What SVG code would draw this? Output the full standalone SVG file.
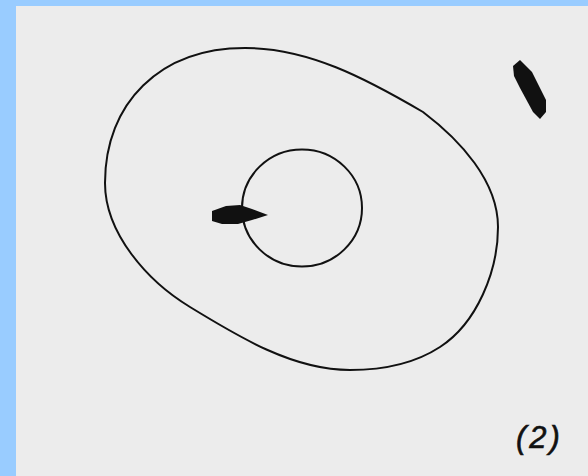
<svg xmlns="http://www.w3.org/2000/svg" width="588" height="476" viewBox="0 0 588 476">
<style>
.line{fill:none;stroke:#111;stroke-width:2}
.blob{fill:#111}
.lbl{font-family:"Liberation Sans",Arial,sans-serif;font-style:italic;font-size:31px;fill:#111;stroke:#111;stroke-width:0.6;letter-spacing:3px}
</style>
<rect x="0" y="0" width="588" height="476" fill="#99ccff"/>
<rect x="16" y="6" width="572" height="470" fill="#ececec"/>
<g id="outer-orbit">
<path class="line" d="M245,48 C308,48 365,78 423,112 C460,140 498,181 498,227 C498,271 477,323 440,347 C414,364 381,370 350,370 C293,370 239,337 190,307 C147,281 105,233 105,183 C105,103 160,48 245,48 Z"/>
</g>
<g id="inner-circle">
<ellipse class="line" cx="302" cy="208" rx="60" ry="58.5"/>
</g>
<g id="central-body">
<path class="blob" d="M212,211 L226,206 L240,205 L252,209 L268,215 L252,220 L238,224 L222,224 L212,221 Z"/>
</g>
<g id="distant-body">
<path class="blob" d="M513,66 L520,60 L532,72 L546,100 L546,112 L540,119 L533,112 L520,88 L514,76 Z"/>
</g>
<text id="label" class="lbl" x="516" y="448">(2)</text>
</svg>
